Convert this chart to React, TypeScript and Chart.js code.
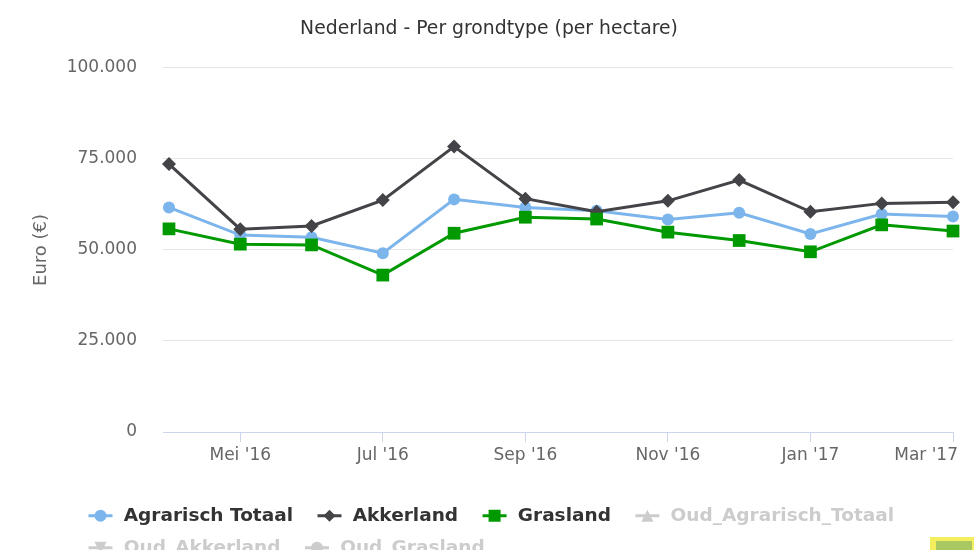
import React, { useEffect, useRef } from "react";
import { Chart, registerables } from "chart.js";

Chart.register(...registerables);

const months = ["Apr '16", "Mei '16", "Jun '16", "Jul '16", "Aug '16", "Sep '16", "Okt '16", "Nov '16", "Dec '16", "Jan '17", "Feb '17", "Mar '17"];
const agrarischTotaal = [61700, 54100, 53500, 49100, 63900, 61700, 60800, 58400, 60200, 54400, 59900, 59200];
const akkerland = [73600, 55700, 56600, 63700, 78400, 64100, 60500, 63500, 69200, 60500, 62800, 63100];
const grasland = [55800, 51600, 51400, 43100, 54600, 59000, 58500, 54900, 52600, 49500, 56900, 55200];
const oudAgrarischTotaal: number[] = [];
const oudAkkerland: number[] = [];
const oudGrasland: number[] = [];
const xTickIdx = [1, 3, 5, 7, 9, 11];
const yTicks = [0, 25000, 50000, 75000, 100000];

const seriesNames = ["Agrarisch Totaal", "Akkerland", "Grasland", "Oud_Agrarisch_Totaal", "Oud_Akkerland", "Oud_Grasland"];
const seriesValues = [agrarischTotaal, akkerland, grasland, oudAgrarischTotaal, oudAkkerland, oudGrasland];
const seriesColors = ["#7cb5ec", "#434348", "#009900", "#cccccc", "#cccccc", "#cccccc"];
const seriesMarkers = ["circle", "diamond", "square", "triangle", "triangle-down", "circle"];
const seriesVisible = [true, true, true, false, false, false];

const FONT = "'DejaVu Sans', sans-serif";

const fmt = (v: number) => String(v).replace(/\B(?=(\d{3})+(?!\d))/g, ".");

function drawMarker(ctx: CanvasRenderingContext2D, kind: string, x: number, y: number, color: string) {
  ctx.save();
  ctx.fillStyle = color;
  ctx.beginPath();
  if (kind === "circle") {
    ctx.arc(x, y, 6, 0, Math.PI * 2);
  } else if (kind === "diamond") {
    ctx.moveTo(x, y - 6);
    ctx.lineTo(x + 6, y);
    ctx.lineTo(x, y + 6);
    ctx.lineTo(x - 6, y);
    ctx.closePath();
  } else if (kind === "square") {
    ctx.rect(x - 6, y - 6, 12, 12);
  } else if (kind === "triangle") {
    ctx.moveTo(x, y - 6);
    ctx.lineTo(x + 6, y + 6);
    ctx.lineTo(x - 6, y + 6);
    ctx.closePath();
  } else if (kind === "triangle-down") {
    ctx.moveTo(x - 6, y - 6);
    ctx.lineTo(x + 6, y - 6);
    ctx.lineTo(x, y + 6);
    ctx.closePath();
  }
  ctx.fill();
  ctx.restore();
}

const chartJsStyle: Record<string, string> = { circle: "circle", diamond: "rectRot", square: "rect", triangle: "triangle", "triangle-down": "triangle" };
const chartJsRadius: Record<string, number> = { circle: 6, diamond: 7, square: 9, triangle: 6, "triangle-down": 6 };

const helperPlugin = {
  id: "helper",
  afterLayout(chart: any) {
    const lg = chart.legend;
    if (lg) {
      const w = lg.width;
      lg.left = 64;
      lg.right = 64 + w;
    }
  },
  afterDraw(chart: any) {
    const ctx: CanvasRenderingContext2D = chart.ctx;
    const xs = chart.scales.x;
    const area = chart.chartArea;
    ctx.save();
    ctx.font = `17px ${FONT}`;
    ctx.fillStyle = "#666666";
    ctx.textBaseline = "middle";
    ctx.textAlign = "center";
    xTickIdx.forEach((i) => {
      const px = xs.getPixelForValue(i);
      const w = ctx.measureText(months[i]).width;
      const cx = Math.min(px, area.right + 5 - w / 2);
      ctx.fillText(months[i], cx, xs.top + 24);
    });
    ctx.restore();
    const lg = chart.legend;
    if (lg && lg.legendHitBoxes) {
      lg.legendHitBoxes.forEach((hb: any, i: number) => {
        const cx = hb.left + 23;
        const cy = hb.top + hb.height / 2;
        const color = seriesColors[i];
        ctx.save();
        ctx.strokeStyle = color;
        ctx.lineWidth = 3;
        ctx.beginPath();
        ctx.moveTo(cx - 12, cy);
        ctx.lineTo(cx + 12, cy);
        ctx.stroke();
        ctx.restore();
        drawMarker(ctx, seriesMarkers[i], cx, cy, color);
      });
    }
  },
};

export default function App() {
  const ref = useRef<HTMLCanvasElement>(null);
  useEffect(() => {
    if (!ref.current) return;
    const datasets = seriesNames.map((name, si) => ({
      label: name,
      data: seriesValues[si].map((v, i) => ({ x: i, y: v })),
      borderColor: seriesColors[si],
      backgroundColor: seriesColors[si],
      borderWidth: 3,
      pointStyle: chartJsStyle[seriesMarkers[si]] as any,
      pointRotation: seriesMarkers[si] === "triangle-down" ? 180 : 0,
      pointRadius: chartJsRadius[seriesMarkers[si]],
      pointBorderWidth: 0,
      pointHoverRadius: chartJsRadius[seriesMarkers[si]],
      tension: 0,
      hidden: !seriesVisible[si],
      order: 10 - si,
      clip: false as any,
    }));
    const chart = new Chart(ref.current, {
      type: "line",
      data: { datasets },
      plugins: [helperPlugin],
      options: {
        animation: false,
        responsive: false,
        layout: { padding: { left: 0, right: 0, top: 0, bottom: 0 } },
        plugins: {
          tooltip: { enabled: false },
          title: {
            display: true,
            text: "Nederland - Per grondtype (per hectare)",
            color: "#333333",
            font: { family: FONT, size: 18.8, weight: "normal" },
            padding: { top: 18, bottom: 27.4 },
          },
          legend: {
            display: true,
            position: "bottom",
            align: "start",
            labels: {
              boxWidth: 37,
              boxHeight: 18.5,
              padding: 13.5,
              font: { family: FONT, size: 18.5, weight: "bold" },
              color: "#333333",
              generateLabels: (ch: any) =>
                ch.data.datasets.map((ds: any, i: number) => ({
                  text: ds.label,
                  fillStyle: "rgba(0,0,0,0)",
                  strokeStyle: "rgba(0,0,0,0)",
                  lineWidth: 0,
                  hidden: false,
                  fontColor: seriesVisible[i] ? "#333333" : "#cccccc",
                  datasetIndex: i,
                })),
            },
            onClick: () => {},
          },
        },
        scales: {
          x: {
            type: "linear",
            min: -0.084,
            max: 11,
            afterBuildTicks: (scale: any) => {
              scale.ticks = xTickIdx.map((v) => ({ value: v }));
            },
            afterFit: (scale: any) => {
              scale.height = 61;
              scale.paddingLeft = 0;
              scale.paddingRight = 0;
            },
            ticks: { display: false },
            grid: {
              display: true,
              drawOnChartArea: false,
              drawTicks: true,
              tickLength: 10,
              color: "#ccd6eb",
              lineWidth: 1,
            },
            border: { display: true, color: "#ccd6eb", width: 1 },
          },
          y: {
            type: "linear",
            position: "left",
            min: 0,
            max: 100000,
            afterBuildTicks: (scale: any) => {
              scale.ticks = yTicks.map((v) => ({ value: v }));
            },
            afterFit: (scale: any) => {
              scale.width = 163;
            },
            ticks: {
              color: "#666666",
              font: { family: FONT, size: 17 },
              padding: 26,
              callback: (v: any) => fmt(Number(v)),
            },
            grid: { color: "#e6e6e6", lineWidth: 1, drawTicks: false },
            border: { display: false },
            title: {
              display: true,
              text: "Euro (€)",
              color: "#666666",
              font: { family: FONT, size: 18 },
              padding: { top: 31, bottom: 0 },
            },
          },
          yRight: {
            type: "linear",
            position: "right",
            display: true,
            min: 0,
            max: 100000,
            afterFit: (scale: any) => {
              scale.width = 25;
            },
            ticks: { display: false },
            grid: { display: false, drawTicks: false },
            border: { display: false },
          },
        },
      },
    });
    return () => chart.destroy();
  }, []);
  return (
    <div style={{ position: "fixed", left: 0, top: 0, width: 978, height: 550, overflow: "hidden", background: "#ffffff" }}>
      <canvas ref={ref} width={978} height={567} style={{ width: 978, height: 567, display: "block" }} />
      <div style={{ position: "absolute", left: 930, top: 537, width: 44, height: 16, background: "#f2ee5e" }}>
        <div style={{ position: "absolute", left: 6, top: 4, width: 36, height: 12, background: "#a9c862" }} />
      </div>
    </div>
  );
}
